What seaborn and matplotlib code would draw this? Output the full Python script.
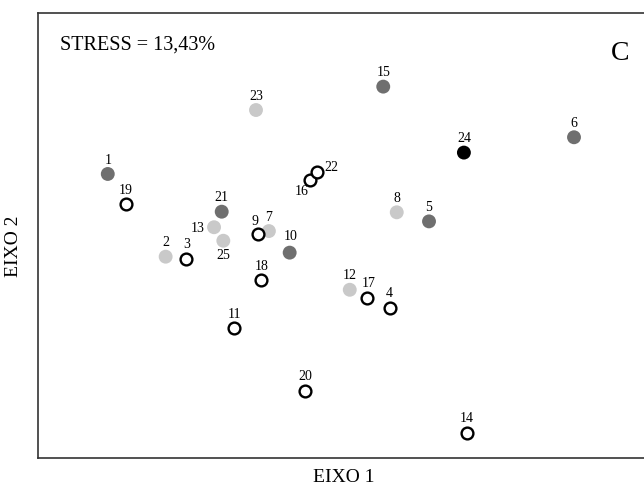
import numpy as np
import pandas as pd
import matplotlib
matplotlib.use("Agg")
import matplotlib.pyplot as plt
import seaborn as sns

# NMDS scores
ids = [str(i) for i in range(1, 26)]
eixo1 = [-1.154, -0.867, -0.765, 0.244, 0.439, 1.158, -0.355, 0.279, -0.408, -0.252,
         -0.527, 0.046, -0.627, 0.626, 0.212, -0.151, 0.131, -0.393, -1.064, -0.175,
         -0.589, -0.118, -0.419, 0.612, -0.581]
eixo2 = [0.305, -0.105, -0.115, -0.358, 0.070, 0.487, 0.022, 0.115, 0.006, -0.085,
         -0.459, -0.269, 0.041, -0.978, 0.738, 0.275, -0.310, -0.221, 0.156, -0.770,
         0.118, 0.316, 0.622, 0.411, -0.026]
grupo = ['escuro', 'claro', 'aberto', 'aberto', 'escuro', 'escuro', 'claro', 'claro', 'aberto', 'escuro',
         'aberto', 'claro', 'claro', 'aberto', 'escuro', 'aberto', 'aberto', 'aberto', 'aberto', 'aberto',
         'escuro', 'aberto', 'claro', 'preto', 'claro']

df = pd.DataFrame({'id': ids, 'x': eixo1, 'y': eixo2, 'grupo': grupo})

# label offsets (points), default is straight above
offsets = {'13': (-11.5, -1), '25': (0, -10.5), '9': (-2, 9), '10': (1, 11.5),
           '16': (-6, -8.5), '22': (10.5, 3), '17': (1.5, 10.5)}

sns.set_style('white')
serif = 'Liberation Serif'

fig = plt.figure(figsize=(6.44, 4.87), dpi=100)
ax = fig.add_axes([38/644, 29/487, 608/644, 445/487])

estilos = {
    'escuro': dict(color='#6f6f6f', edgecolor='none', s=100, linewidth=0),
    'claro': dict(color='#c9c9c9', edgecolor='none', s=100, linewidth=0),
    'preto': dict(color='black', edgecolor='none', s=100, linewidth=0),
    'aberto': dict(color='white', edgecolor='black', s=72, linewidth=1.7),
}
for g, kw in estilos.items():
    sub = df[df['grupo'] == g]
    sns.scatterplot(data=sub, x='x', y='y', ax=ax, legend=False, zorder=3, **kw)

for _, row in df.iterrows():
    dx, dy = offsets.get(row['id'], (0, 10))
    ax.annotate(row['id'], (row['x'], row['y']), xytext=(dx, dy), textcoords='offset points',
                ha='center', va='center', fontsize=10, family=serif, color='black')

ax.set_xlim(-1.5, 1.515)
ax.set_ylim(-1.103, 1.103)
ax.set_xticks([])
ax.set_yticks([])
ax.set_xlabel('')
ax.set_ylabel('')
for sp in ax.spines.values():
    sp.set_color('#333333')
    sp.set_linewidth(1.2)

ax.text(0.036, 0.929, 'STRESS = 13,43%', transform=ax.transAxes, ha='left', va='center',
        fontsize=14.5, family=serif, color='black')
ax.text(0.957, 0.909, 'C', transform=ax.transAxes, ha='center', va='center',
        fontsize=20, family=serif, color='black')

fig.text(344/644, 1 - 477/487, 'EIXO 1', ha='center', va='center', fontsize=14, family=serif, color='black')
fig.text(13/644, 1 - 246/487, 'EIXO 2', ha='center', va='center', rotation=90, fontsize=14, family=serif, color='black')

fig.savefig('out.png', dpi=100)
